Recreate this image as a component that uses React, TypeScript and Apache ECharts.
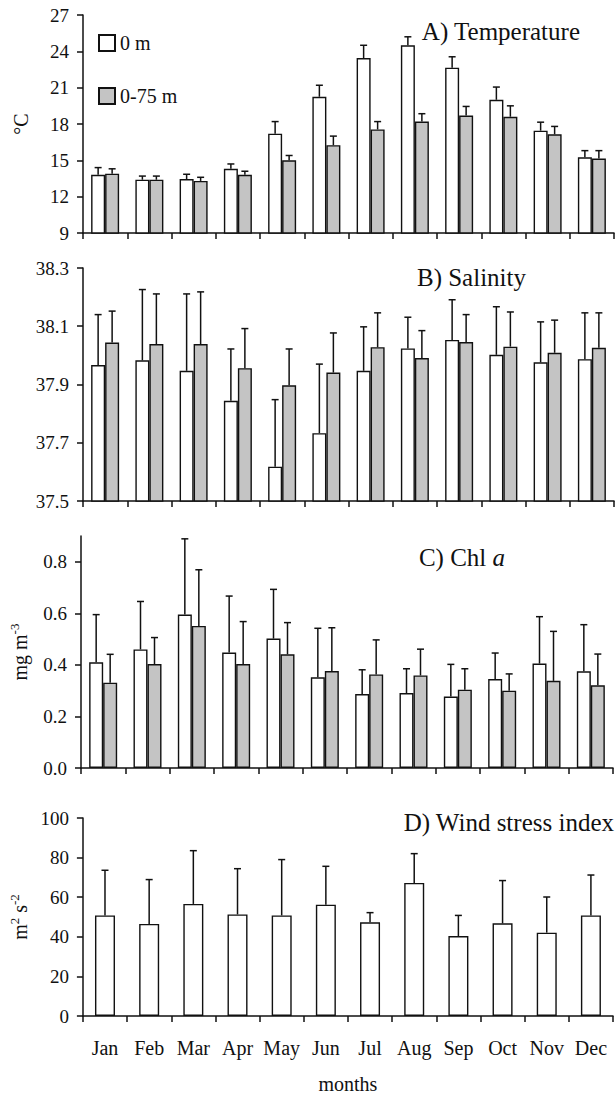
import React, { useEffect, useRef } from "react";
import * as echarts from "echarts";

const months = ["Jan", "Feb", "Mar", "Apr", "May", "Jun", "Jul", "Aug", "Sep", "Oct", "Nov", "Dec"];

// A) Temperature (°C)
const temp0 = [13.8, 13.4, 13.45, 14.3, 17.2, 20.25, 23.45, 24.5, 22.65, 20.0, 17.45, 15.25];
const temp0Sd = [0.6, 0.3, 0.4, 0.4, 1.0, 0.95, 1.05, 0.7, 0.9, 1.05, 0.7, 0.55];
const temp75 = [13.9, 13.4, 13.3, 13.8, 15.0, 16.25, 17.55, 18.2, 18.7, 18.6, 17.15, 15.15];
const temp75Sd = [0.4, 0.3, 0.3, 0.3, 0.4, 0.75, 0.65, 0.65, 0.75, 0.9, 0.65, 0.65];

// B) Salinity
const sal0 = [37.967, 37.983, 37.947, 37.844, 37.618, 37.733, 37.947, 38.024, 38.053, 38.002, 37.976, 37.987];
const sal0Sd = [0.173, 0.243, 0.264, 0.178, 0.23, 0.237, 0.151, 0.107, 0.138, 0.165, 0.139, 0.159];
const sal75 = [38.044, 38.039, 38.039, 37.956, 37.897, 37.941, 38.028, 37.991, 38.046, 38.03, 38.009, 38.026];
const sal75Sd = [0.108, 0.172, 0.179, 0.136, 0.125, 0.136, 0.118, 0.094, 0.094, 0.119, 0.112, 0.12];
const salTicks = [37.5, 37.7, 37.9, 38.1, 38.3];

// C) Chl a (mg m-3)
const chl0 = [0.41, 0.46, 0.595, 0.448, 0.502, 0.352, 0.287, 0.291, 0.277, 0.345, 0.405, 0.375];
const chl0Sd = [0.185, 0.186, 0.294, 0.219, 0.191, 0.19, 0.094, 0.094, 0.125, 0.101, 0.182, 0.181];
const chl75 = [0.331, 0.403, 0.551, 0.403, 0.441, 0.376, 0.363, 0.359, 0.304, 0.3, 0.338, 0.321];
const chl75Sd = [0.11, 0.103, 0.218, 0.165, 0.123, 0.168, 0.134, 0.102, 0.081, 0.065, 0.192, 0.121];
const chlTicks = [0, 0.2, 0.4, 0.6, 0.8];

// D) Wind stress index (m2 s-2)
const wind = [50.8, 46.5, 56.6, 51.3, 50.8, 56.2, 47.3, 67.2, 40.4, 46.8, 42.1, 50.8];
const windSd = [22.8, 22.4, 26.9, 23.1, 28.2, 19.4, 4.9, 14.8, 10.4, 21.6, 18.0, 20.4];

const FONT = "Liberation Serif, Times New Roman, serif";
const INK = "#111";
const GRAY = "#c4c4c4";
const BW = 14;

const makeErr = (offset: number) => (params: any, api: any) => {
  const i = api.value(0);
  const m = api.value(1);
  const s = api.value(2);
  const base = api.coord([i, m]);
  const top = api.coord([i, m + s]);
  const x = base[0] + offset;
  return {
    type: "group",
    children: [
      { type: "line", shape: { x1: x, y1: base[1], x2: x, y2: top[1] }, style: { stroke: INK, lineWidth: 1.5 } },
      { type: "line", shape: { x1: x - 3.5, y1: top[1], x2: x + 3.5, y2: top[1] }, style: { stroke: INK, lineWidth: 1.5 } },
    ],
  };
};

const errData = (m: number[], s: number[]) => m.map((v, i) => [i, v, s[i]]);

export default function App() {
  const ref = useRef<HTMLDivElement>(null);
  useEffect(() => {
    if (!ref.current) return;
    const chart = echarts.init(ref.current, undefined, { renderer: "svg" });

    const grids = [
      { left: 83, right: 2, top: 15, height: 218 },
      { left: 83, right: 2, top: 268, height: 233 },
      { left: 80, right: 3, top: 536, height: 232 },
      { left: 80, right: 3, top: 818, height: 198 },
    ];

    const xAxis = grids.map((_, k) => ({
      type: "category",
      gridIndex: k,
      data: months,
      boundaryGap: true,
      axisLine: { lineStyle: { color: INK, width: 1.5 } },
      axisTick: { show: true, length: 6, lineStyle: { color: INK, width: 1.5 } },
      axisLabel: {
        show: k === 3,
        fontFamily: FONT,
        fontSize: 20,
        color: INK,
        margin: 22,
        interval: 0,
      },
      name: k === 3 ? "months" : "",
      nameLocation: "middle",
      nameGap: 58,
      nameTextStyle: { fontFamily: FONT, fontSize: 20, color: INK },
    }));

    const yBase = {
      type: "value",
      splitLine: { show: false },
      axisLine: { show: true, lineStyle: { color: INK, width: 1.5 } },
      axisTick: { show: true, length: 6, lineStyle: { color: INK, width: 1.5 } },
      nameLocation: "middle",
      nameRotate: 90,
    };
    const labelBase = { fontFamily: FONT, fontSize: 19, color: INK, margin: 14 };
    const supRich = {
      t: { fontFamily: FONT, fontSize: 20, color: INK },
      s: { fontFamily: FONT, fontSize: 13, color: INK, verticalAlign: "top", padding: [0, 0, 10, 0] },
    };

    const yAxis = [
      {
        ...yBase,
        gridIndex: 0,
        min: 9,
        max: 27,
        interval: 3,
        axisLabel: { ...labelBase },
        name: "°C",
        nameGap: 52,
        nameTextStyle: { fontFamily: FONT, fontSize: 20, color: INK },
      },
      {
        ...yBase,
        gridIndex: 1,
        min: 37.5,
        max: 38.3,
        axisLabel: { ...labelBase, customValues: salTicks, formatter: (v: number) => v.toFixed(1) },
        axisTick: { ...yBase.axisTick, customValues: salTicks },
      },
      {
        ...yBase,
        gridIndex: 2,
        min: 0,
        max: 0.9,
        axisLabel: { ...labelBase, customValues: chlTicks, formatter: (v: number) => v.toFixed(1) },
        axisTick: { ...yBase.axisTick, customValues: chlTicks },
        name: "{t|mg m}{s|-3}",
        nameGap: 50,
        nameTextStyle: { fontFamily: FONT, fontSize: 20, color: INK, rich: supRich },
      },
      {
        ...yBase,
        gridIndex: 3,
        min: 0,
        max: 100,
        interval: 20,
        axisLabel: { ...labelBase },
        name: "{t|m}{s|2}{t| s}{s|-2}",
        nameGap: 50,
        nameTextStyle: { fontFamily: FONT, fontSize: 20, color: INK, rich: supRich },
      },
    ];

    const white = { color: "#fff", borderColor: INK, borderWidth: 1.4 };
    const gray = { color: GRAY, borderColor: INK, borderWidth: 1.4 };

    const pair = (k: number, a: number[], aS: number[], b: number[], bS: number[], n0: string, n1: string) => [
      { type: "bar", name: n0, xAxisIndex: k, yAxisIndex: k, data: a, barWidth: BW, barGap: "0%", itemStyle: white },
      { type: "bar", name: n1, xAxisIndex: k, yAxisIndex: k, data: b, barWidth: BW, barGap: "0%", itemStyle: gray },
      { type: "custom", name: n0 + " sd", xAxisIndex: k, yAxisIndex: k, data: errData(a, aS), renderItem: makeErr(-BW / 2), encode: { x: 0, y: 1 }, clip: false, z: 3 },
      { type: "custom", name: n1 + " sd", xAxisIndex: k, yAxisIndex: k, data: errData(b, bS), renderItem: makeErr(BW / 2), encode: { x: 0, y: 1 }, clip: false, z: 3 },
    ];

    const series: any[] = [
      ...pair(0, temp0, temp0Sd, temp75, temp75Sd, "0 m", "0-75 m"),
      ...pair(1, sal0, sal0Sd, sal75, sal75Sd, "Salinity 0 m", "Salinity 0-75 m"),
      ...pair(2, chl0, chl0Sd, chl75, chl75Sd, "Chl a 0 m", "Chl a 0-75 m"),
      { type: "bar", name: "Wind stress", xAxisIndex: 3, yAxisIndex: 3, data: wind, barWidth: 20, itemStyle: white },
      { type: "custom", name: "Wind stress sd", xAxisIndex: 3, yAxisIndex: 3, data: errData(wind, windSd), renderItem: makeErr(0), encode: { x: 0, y: 1 }, clip: false, z: 3 },
    ];

    const titleText = (x: number, y: number, text: string, rich?: any) => ({
      type: "text",
      x,
      y,
      style: {
        text,
        align: "right",
        verticalAlign: "middle",
        fontFamily: FONT,
        fontSize: 25,
        fill: INK,
        rich,
      },
    });

    chart.setOption({
      animation: false,
      backgroundColor: "#fff",
      grid: grids,
      xAxis,
      yAxis,
      legend: {
        data: ["0 m", "0-75 m"],
        orient: "vertical",
        left: 93,
        top: 28,
        itemWidth: 16,
        itemHeight: 16,
        itemGap: 33,
        icon: "rect",
        selectedMode: false,
        textStyle: { fontFamily: FONT, fontSize: 20, color: INK },
      },
      graphic: [
        titleText(580, 31, "A) Temperature"),
        titleText(526, 277, "B) Salinity"),
        titleText(505, 557, "{n|C) Chl }{i|a}", {
          n: { fontFamily: FONT, fontSize: 25, color: INK },
          i: { fontFamily: FONT, fontSize: 25, color: INK, fontStyle: "italic" },
        }),
        titleText(614, 822, "D) Wind stress index"),
      ],
      series,
    });
    return () => chart.dispose();
  }, []);

  return (
    <div
      ref={ref}
      style={{ position: "absolute", left: 0, top: 0, width: 616, height: 1095, background: "#fff" }}
    />
  );
}
